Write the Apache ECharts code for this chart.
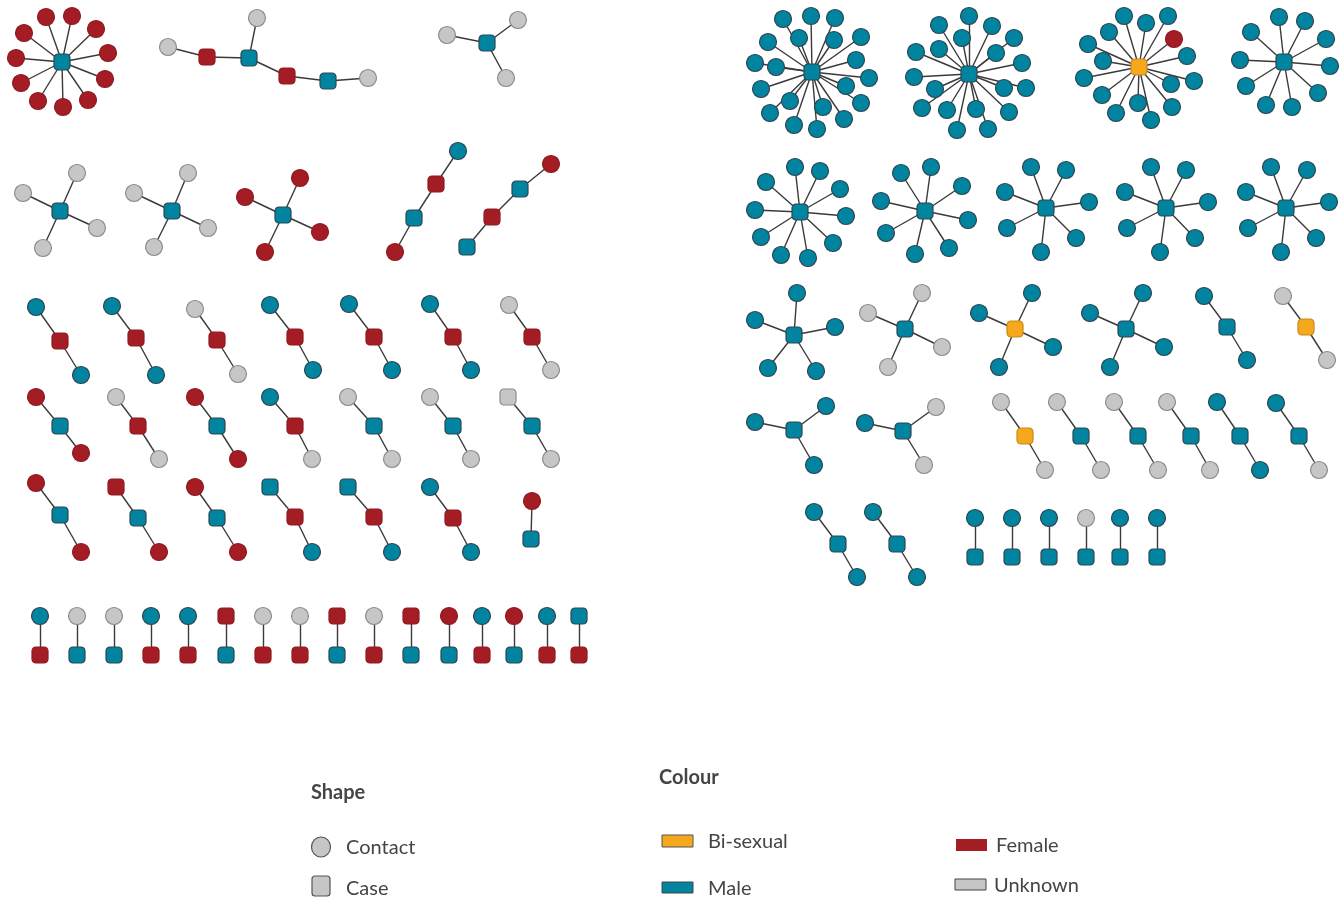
<!DOCTYPE html>
<html>
<head>
<meta charset="utf-8">
<script src="https://cdn.jsdelivr.net/npm/echarts@6/dist/echarts.min.js"></script>
<style>
html,body{margin:0;padding:0;background:#fff;}
#chart{width:1344px;height:899px;}
</style>
</head>
<body>
<div id="chart"></div>
<script>
// Node format: [x, y, code, parentIndexWithinComponent]
// code: first letter c = Contact, s = Case; second letter M = Male, F = Female, U = Unknown, B = Bi-sexual

const leftStars = [
  [[62,62,'sM',-1],[46,17,'cF',0],[72,16,'cF',0],[24,33,'cF',0],[96,29,'cF',0],[16,58,'cF',0],[108,53,'cF',0],
   [21,83,'cF',0],[105,79,'cF',0],[38,101,'cF',0],[88,100,'cF',0],[63,107,'cF',0]],
  [[487,43,'sM',-1],[447,35,'cU',0],[518,20,'cU',0],[506,78,'cU',0]],
  [[60,211,'sM',-1],[23,193,'cU',0],[77,173,'cU',0],[97,228,'cU',0],[43,248,'cU',0]],
  [[172,211,'sM',-1],[134,193,'cU',0],[188,173,'cU',0],[208,228,'cU',0],[154,247,'cU',0]],
  [[283,215,'sM',-1],[245,197,'cF',0],[300,178,'cF',0],[320,232,'cF',0],[265,252,'cF',0]]
];

const leftChains = [
  [[168,47,'cU',-1],[207,57,'sF',0],[249,58,'sM',1],[257,18,'cU',2],[287,76,'sF',2],[328,81,'sM',4],[368,78,'cU',5]],
  [[458,151,'cM',-1],[436,184,'sF',0],[414,218,'sM',1],[395,252,'cF',2]],
  [[551,164,'cF',-1],[520,189,'sM',0],[492,217,'sF',1],[467,247,'sM',2]]
];

const leftTriples = [
  [[36,307,'cM',-1],[60,341,'sF',0],[81,375,'cM',1]],
  [[112,306,'cM',-1],[136,338,'sF',0],[156,375,'cM',1]],
  [[195,309,'cU',-1],[217,340,'sF',0],[238,374,'cU',1]],
  [[270,305,'cM',-1],[295,337,'sF',0],[313,370,'cM',1]],
  [[349,304,'cM',-1],[374,337,'sF',0],[392,370,'cM',1]],
  [[430,304,'cM',-1],[453,337,'sF',0],[471,370,'cM',1]],
  [[509,305,'cU',-1],[532,337,'sF',0],[551,370,'cU',1]],
  [[36,397,'cF',-1],[60,426,'sM',0],[81,453,'cF',1]],
  [[116,397,'cU',-1],[138,426,'sF',0],[159,459,'cU',1]],
  [[195,397,'cF',-1],[217,426,'sM',0],[238,459,'cF',1]],
  [[270,397,'cM',-1],[295,426,'sF',0],[312,459,'cU',1]],
  [[348,397,'cU',-1],[374,426,'sM',0],[392,459,'cU',1]],
  [[430,397,'cU',-1],[453,426,'sM',0],[471,459,'cU',1]],
  [[508,397,'sU',-1],[532,426,'sM',0],[551,459,'cU',1]],
  [[36,483,'cF',-1],[60,515,'sM',0],[81,552,'cF',1]],
  [[116,487,'sF',-1],[138,518,'sM',0],[159,552,'cF',1]],
  [[195,487,'cF',-1],[217,518,'sM',0],[238,552,'cF',1]],
  [[270,487,'sM',-1],[295,517,'sF',0],[312,552,'cM',1]],
  [[348,487,'sM',-1],[374,517,'sF',0],[392,552,'cM',1]],
  [[430,487,'cM',-1],[453,518,'sF',0],[471,552,'cM',1]],
  [[532,501,'cF',-1],[531,539,'sM',0]]
];

const leftPairs = [
  [[40,616,'cM',-1],[40,655,'sF',0]],
  [[77,616,'cU',-1],[77,655,'sM',0]],
  [[114,616,'cU',-1],[114,655,'sM',0]],
  [[151,616,'cM',-1],[151,655,'sF',0]],
  [[188,616,'cM',-1],[188,655,'sF',0]],
  [[226,616,'sF',-1],[226,655,'sM',0]],
  [[263,616,'cU',-1],[263,655,'sF',0]],
  [[300,616,'cU',-1],[300,655,'sF',0]],
  [[337,616,'sF',-1],[337,655,'sM',0]],
  [[374,616,'cU',-1],[374,655,'sF',0]],
  [[411,616,'sF',-1],[411,655,'sM',0]],
  [[449,616,'cF',-1],[449,655,'sM',0]],
  [[482,616,'cM',-1],[482,655,'sF',0]],
  [[514,616,'cF',-1],[514,655,'sM',0]],
  [[547,616,'cM',-1],[547,655,'sF',0]],
  [[579,616,'sM',-1],[579,655,'sF',0]]
];

const rightStars = [
  [[812,72,'sM',-1],[783,19,'cM',0],[811,16,'cM',0],[835,18,'cM',0],[768,42,'cM',0],[799,38,'cM',0],[834,40,'cM',0],
   [861,37,'cM',0],[755,63,'cM',0],[776,67,'cM',0],[856,60,'cM',0],[869,78,'cM',0],[761,89,'cM',0],[846,86,'cM',0],
   [790,101,'cM',0],[861,103,'cM',0],[770,113,'cM',0],[823,107,'cM',0],[844,119,'cM',0],[794,125,'cM',0],[817,129,'cM',0]],
  [[969,74,'sM',-1],[969,16,'cM',0],[939,25,'cM',0],[992,26,'cM',0],[1014,38,'cM',0],[962,38,'cM',0],[916,52,'cM',0],
   [939,49,'cM',0],[996,53,'cM',0],[1022,63,'cM',0],[914,77,'cM',0],[935,89,'cM',0],[1004,88,'cM',0],[1026,88,'cM',0],
   [922,108,'cM',0],[947,110,'cM',0],[976,109,'cM',0],[1009,112,'cM',0],[957,130,'cM',0],[988,129,'cM',0]],
  [[1139,67,'sB',-1],[1124,16,'cM',0],[1168,16,'cM',0],[1146,23,'cM',0],[1109,32,'cM',0],[1174,39,'cF',0],[1088,44,'cM',0],
   [1103,61,'cM',0],[1187,56,'cM',0],[1084,78,'cM',0],[1194,81,'cM',0],[1171,84,'cM',0],[1102,95,'cM',0],[1138,103,'cM',0],
   [1172,107,'cM',0],[1116,113,'cM',0],[1151,120,'cM',0]],
  [[1284,62,'sM',-1],[1279,17,'cM',0],[1305,21,'cM',0],[1251,32,'cM',0],[1326,39,'cM',0],[1240,60,'cM',0],[1330,66,'cM',0],
   [1246,86,'cM',0],[1318,93,'cM',0],[1266,105,'cM',0],[1292,107,'cM',0]],
  [[800,212,'sM',-1],[795,167,'cM',0],[820,171,'cM',0],[766,182,'cM',0],[840,189,'cM',0],[755,210,'cM',0],[846,216,'cM',0],
   [761,237,'cM',0],[833,243,'cM',0],[781,255,'cM',0],[808,258,'cM',0]],
  [[925,211,'sM',-1],[901,173,'cM',0],[931,167,'cM',0],[962,186,'cM',0],[881,201,'cM',0],[968,220,'cM',0],[886,233,'cM',0],
   [915,254,'cM',0],[949,248,'cM',0]],
  [[1046,208,'sM',-1],[1031,167,'cM',0],[1066,170,'cM',0],[1005,192,'cM',0],[1089,202,'cM',0],[1007,228,'cM',0],[1076,238,'cM',0],[1041,252,'cM',0]],
  [[1166,208,'sM',-1],[1151,167,'cM',0],[1186,170,'cM',0],[1125,192,'cM',0],[1208,202,'cM',0],[1127,228,'cM',0],[1195,238,'cM',0],[1160,252,'cM',0]],
  [[1286,208,'sM',-1],[1271,167,'cM',0],[1307,170,'cM',0],[1246,192,'cM',0],[1329,202,'cM',0],[1248,228,'cM',0],[1316,238,'cM',0],[1281,252,'cM',0]]
];

const rightSmall = [
  [[794,335,'sM',-1],[797,293,'cM',0],[755,320,'cM',0],[835,327,'cM',0],[768,368,'cM',0],[816,371,'cM',0]],
  [[905,329,'sM',-1],[868,313,'cU',0],[922,293,'cU',0],[942,347,'cU',0],[888,367,'cU',0]],
  [[1015,329,'sB',-1],[979,313,'cM',0],[1032,293,'cM',0],[1053,347,'cM',0],[999,367,'cM',0]],
  [[1126,329,'sM',-1],[1090,313,'cM',0],[1143,293,'cM',0],[1164,347,'cM',0],[1110,367,'cM',0]],
  [[794,430,'sM',-1],[755,422,'cM',0],[826,406,'cM',0],[814,465,'cM',0]],
  [[903,431,'sM',-1],[865,423,'cM',0],[936,407,'cU',0],[924,465,'cU',0]]
];

const rightTriples = [
  [[1204,296,'cM',-1],[1227,327,'sM',0],[1247,360,'cM',1]],
  [[1283,296,'cU',-1],[1306,327,'sB',0],[1327,360,'cU',1]],
  [[1001,402,'cU',-1],[1025,436,'sB',0],[1045,470,'cU',1]],
  [[1057,402,'cU',-1],[1081,436,'sM',0],[1101,470,'cU',1]],
  [[1114,402,'cU',-1],[1138,436,'sM',0],[1158,470,'cU',1]],
  [[1167,402,'cU',-1],[1191,436,'sM',0],[1210,470,'cU',1]],
  [[1217,402,'cM',-1],[1240,436,'sM',0],[1260,470,'cM',1]],
  [[1276,403,'cM',-1],[1299,436,'sM',0],[1319,470,'cU',1]],
  [[814,512,'cM',-1],[838,544,'sM',0],[857,577,'cM',1]],
  [[873,512,'cM',-1],[897,544,'sM',0],[917,577,'cM',1]]
];

const rightPairs = [
  [[975,518,'cM',-1],[975,557,'sM',0]],
  [[1012,518,'cM',-1],[1012,557,'sM',0]],
  [[1049,518,'cM',-1],[1049,557,'sM',0]],
  [[1086,518,'cU',-1],[1086,557,'sM',0]],
  [[1120,518,'cM',-1],[1120,557,'sM',0]],
  [[1157,518,'cM',-1],[1157,557,'sM',0]]
];

const shapeLegend = ['Contact', 'Case'];
const colourLegend = ['Bi-sexual', 'Male', 'Female', 'Unknown'];

const FILL = {M:'#00849f', F:'#a51d24', U:'#c6c6c6', B:'#f5a81c'};
const STROKE = {M:'#2d4650', F:'#8f1a20', U:'#8c8c8c', B:'#c8891a'};

const components = [].concat(leftStars, leftChains, leftTriples, leftPairs, rightStars, rightSmall, rightTriples, rightPairs);
const nodes = [];
const links = [];
components.forEach(comp => {
  const base = nodes.length;
  comp.forEach(n => {
    const isCase = n[2][0] === 's';
    const sex = n[2][1];
    nodes.push({
      value: [n[0], n[1]],
      symbol: isCase ? 'roundRect' : 'circle',
      symbolSize: isCase ? 16 : 17,
      itemStyle: {color: FILL[sex], borderColor: STROKE[sex], borderWidth: 1.2}
    });
    if (n[3] >= 0) links.push({source: base + n[3], target: nodes.length - 1});
  });
});

const chart = echarts.init(document.getElementById('chart'), null, {renderer: 'canvas'});
const FONT = 'Lato, "Noto Sans", sans-serif';
const TXT = '#454545';
chart.setOption({
  animation: false,
  backgroundColor: '#fff',
  grid: {left: 0, right: 0, top: 0, bottom: 0},
  xAxis: {type: 'value', min: 0, max: 1344, show: false},
  yAxis: {type: 'value', min: 0, max: 899, inverse: true, show: false},
  series: [{
    type: 'graph',
    coordinateSystem: 'cartesian2d',
    data: nodes,
    links: links,
    lineStyle: {color: '#3a3a3a', width: 1.4, opacity: 1, curveness: 0},
    label: {show: false},
    emphasis: {disabled: true},
    silent: true
  }],
  graphic: [
    {type: 'text', left: 311, top: 783, style: {text: 'Shape', font: 'bold 20px ' + FONT, fill: TXT}},
    {type: 'text', left: 659, top: 768, style: {text: 'Colour', font: 'bold 20px ' + FONT, fill: TXT}},
    {type: 'ellipse', shape: {cx: 321, cy: 847, rx: 9.5, ry: 10}, style: {fill: '#c6c6c6', stroke: '#555', lineWidth: 1.2}},
    {type: 'rect', shape: {x: 312, y: 876, width: 18, height: 20, r: 3}, style: {fill: '#c6c6c6', stroke: '#555', lineWidth: 1.2}},
    {type: 'text', left: 346, top: 838, style: {text: shapeLegend[0], font: '20px ' + FONT, fill: TXT}},
    {type: 'text', left: 346, top: 879, style: {text: shapeLegend[1], font: '20px ' + FONT, fill: TXT}},
    {type: 'rect', shape: {x: 662, y: 835, width: 31, height: 12}, style: {fill: FILL.B, stroke: '#555', lineWidth: 1}},
    {type: 'rect', shape: {x: 662, y: 882, width: 31, height: 11}, style: {fill: FILL.M, stroke: '#444', lineWidth: 1}},
    {type: 'rect', shape: {x: 956, y: 839, width: 31, height: 12}, style: {fill: FILL.F}},
    {type: 'rect', shape: {x: 955, y: 879, width: 31, height: 11}, style: {fill: FILL.U, stroke: '#444', lineWidth: 1}},
    {type: 'text', left: 708, top: 832, style: {text: colourLegend[0], font: '20px ' + FONT, fill: TXT}},
    {type: 'text', left: 708, top: 879, style: {text: colourLegend[1], font: '20px ' + FONT, fill: TXT}},
    {type: 'text', left: 996, top: 836, style: {text: colourLegend[2], font: '20px ' + FONT, fill: TXT}},
    {type: 'text', left: 994, top: 876, style: {text: colourLegend[3], font: '20px ' + FONT, fill: TXT}}
  ]
});
</script>
</body>
</html>
